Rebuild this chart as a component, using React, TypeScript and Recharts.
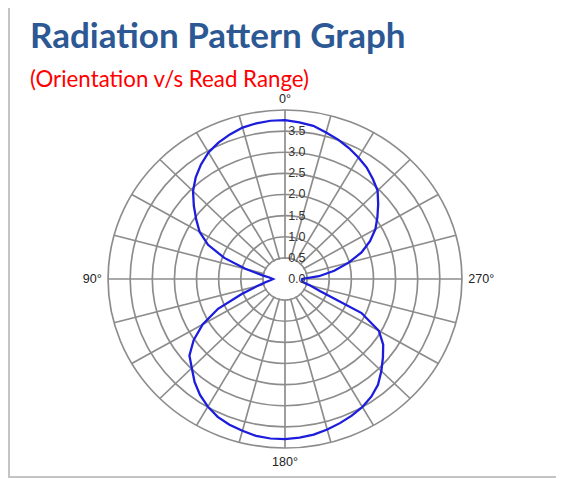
import React from 'react';
import { RadarChart, Radar, PolarGrid, PolarAngleAxis, PolarRadiusAxis } from 'recharts';

// orientation in degrees, counter-clockwise from the top (90° sits on the left)
const orientations = [
  0, 5, 10, 15, 20, 25, 30, 35, 40, 45, 50, 55, 60, 65, 70, 75, 80, 85,
  90, 95, 100, 105, 110, 115, 120, 125, 130, 135, 140, 145, 150, 155, 160, 165, 170, 175,
  180, 185, 190, 195, 200, 205, 210, 215, 220, 225, 230, 235, 240, 245, 250, 255, 260, 265,
  270, 275, 280, 285, 290, 295, 300, 305, 310, 315, 320, 325, 330, 335, 340, 345, 350, 355,
];

// read range for each orientation
const readRange = [
  3.76, 3.76, 3.74, 3.71, 3.64, 3.56, 3.46, 3.31, 3.14, 2.94, 2.69, 2.45, 2.23, 1.92, 1.46, 0.93, 0.53, 0.34,
  0.27, 0.33, 0.45, 0.66, 1.04, 1.67, 2.15, 2.52, 2.82, 2.98, 3.18, 3.35, 3.49, 3.6, 3.67, 3.72, 3.77, 3.79,
  3.79, 3.77, 3.74, 3.69, 3.63, 3.57, 3.5, 3.4, 3.27, 3.08, 2.89, 2.71, 2.45, 1.91, 0.85, 0.58, 0.4, 0.39,
  0.39, 0.77, 1.13, 1.49, 1.84, 2.12, 2.36, 2.55, 2.75, 2.96, 3.09, 3.22, 3.32, 3.42, 3.51, 3.59, 3.68, 3.72,
];

const rangeTicks = [0, 0.5, 1, 1.5, 2, 2.5, 3, 3.5, 4];
const angleLabels = [0, 90, 180, 270];
const spokeAngles = [0, 15, 30, 45, 60, 75, 90, 105, 120, 135, 150, 165, 180, 195, 210, 225, 240, 255, 270, 285, 300, 315, 330, 345];

const data = orientations.map((deg, i) => ({ deg, range: readRange[i] }));

const W = 546;
const H = 476;
const CX = 275;
const CY = 279;
const R = 169;
const STRETCH = 1.047;
const AXIS_FONT = '"Liberation Sans", Arial, sans-serif';
// counter-clockwise band scale puts each point one band (5°) past its start, so start one band early
const START = 85;

const RangeTick = (props: any) => {
  const { x, y, payload } = props;
  if (payload.value >= 4) return <g />;
  return (
    <text x={x + 3} y={y + 4} fontSize={12} fill="#333" fontFamily={AXIS_FONT} textAnchor="start">
      {Number(payload.value).toFixed(1)}
    </text>
  );
};

// compass labels placed just outside the outer ring
const AngleTick = (props: any) => {
  const v = props.payload.value;
  if (!angleLabels.includes(v)) return <g />;
  const a = ((v + 90) * Math.PI) / 180;
  const x = CX + (R + 6) * Math.cos(a);
  const y = CY - (R + 6) * Math.sin(a);
  let anchor = 'middle';
  let dy = 4;
  if (v === 0) dy = -1;
  if (v === 180) dy = 12;
  if (v === 90) anchor = 'end';
  if (v === 270) anchor = 'start';
  return (
    <text x={x} y={y + dy} fontSize={12} fill="#222" fontFamily={AXIS_FONT} textAnchor={anchor}>
      {v}°
    </text>
  );
};

export default function App() {
  return (
    <div
      style={{
        position: 'relative',
        width: W,
        height: H,
        marginTop: -8,
        borderLeft: '2px solid #c4c4c4',
        borderRight: '2px solid #c4c4c4',
        borderBottom: '2px solid #c4c4c4',
        background: '#fff',
      }}
    >
      <svg width={W} height={100} style={{ position: 'absolute', left: 0, top: 0 }}>
        <text x={20} y={48} fontFamily="Lato, sans-serif" fontWeight={700} fontSize={35} fill="#2C5894">
          Radiation Pattern Graph
        </text>
        <text x={20} y={87} fontFamily="Lato, sans-serif" fontSize={22.3} fill="#FF0000">
          (Orientation v/s Read Range)
        </text>
      </svg>
      <div
        style={{
          position: 'absolute',
          left: 0,
          top: 0,
          transform: `scaleX(${STRETCH})`,
          transformOrigin: `${CX}px 0px`,
        }}
      >
        <RadarChart
          width={W}
          height={H}
          cx={CX}
          cy={CY}
          outerRadius={R}
          startAngle={START}
          endAngle={START + 360}
          data={data}
          margin={{ top: 0, right: 0, bottom: 0, left: 0 }}
        >
          <PolarGrid gridType="circle" polarAngles={spokeAngles} stroke="#8c8c8c" strokeWidth={1.6} />
          {/* blank hub, the spokes stop at the first ring */}
          <circle cx={CX} cy={CY} r={R / 8 - 1} fill="#fff" />
          <Radar
            dataKey="range"
            stroke="#1c1cdc"
            strokeWidth={2.2}
            fill="none"
            fillOpacity={0}
            dot={false}
            isAnimationActive={false}
          />
          <PolarAngleAxis dataKey="deg" axisLine={false} tickLine={false} tick={AngleTick} />
          <PolarRadiusAxis
            angle={90}
            type="number"
            domain={[0, 4]}
            ticks={rangeTicks}
            tickCount={9}
            axisLine={false}
            tickLine={false}
            tick={RangeTick}
          />
        </RadarChart>
      </div>
    </div>
  );
}
